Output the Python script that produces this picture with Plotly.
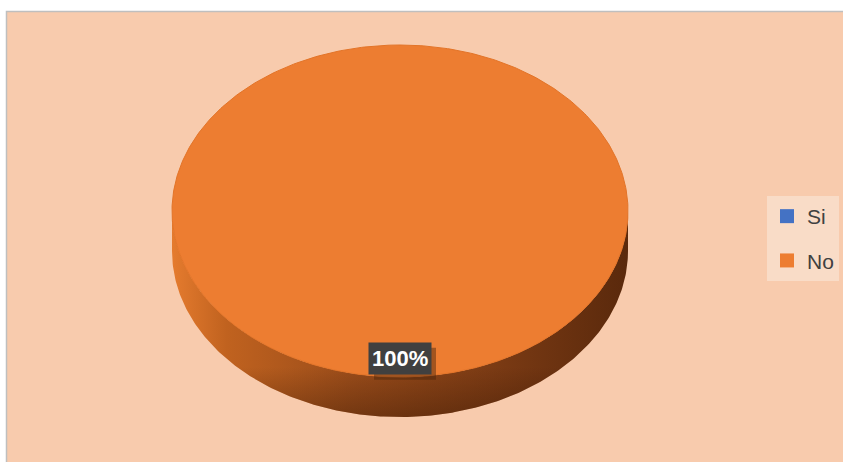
import numpy as np
import plotly.graph_objects as go

# Survey answers
categories = ["Si", "No"]
values = [0, 100]
colors = ["#4472C4", "#ED7D31"]

W, H = 843, 462

# 3-D pie geometry (pixel space)
CX, CY = 400, 211
RX, RY = 228, 166
DEPTH = 40
LABEL_R = 0.89

total = float(sum(values))
fractions = [v / total for v in values]


def ell(a_deg, dy=0.0, r=1.0):
    a = np.radians(a_deg)
    return CX + r * RX * np.sin(a), CY - r * RY * np.cos(a) + dy


fig = go.Figure()

# slice angular spans, clockwise from 12 o'clock
spans = []
start = 0.0
for f in fractions:
    spans.append((start, start + 360.0 * f))
    start += 360.0 * f

# side walls (front half only): lit from the left, shaded toward the bottom
for (a0, a1), col, f in zip(spans, colors, fractions):
    if f <= 0:
        continue
    s0, s1 = max(a0, 90.0), min(a1, 270.0)
    if s1 <= s0:
        continue
    ang = np.linspace(s0, s1, 240)
    tx, ty = ell(ang)
    bx, by = ell(ang[::-1], dy=DEPTH)
    xs = np.concatenate([tx, bx, tx[:1]])
    ys = np.concatenate([ty, by, ty[:1]])
    fig.add_trace(go.Scatter(
        x=xs, y=ys, mode="lines", fill="toself",
        line=dict(width=0, color="rgba(0,0,0,0)"),
        fillgradient=dict(
            type="horizontal", start=CX - RX, stop=CX + RX,
            colorscale=[[0, "#E57B2E"], [0.12, "#C0621F"],
                        [0.4, "#9A4C1A"], [0.7, "#7C3B14"],
                        [1, "#5A290C"]],
        ),
        showlegend=False, hoverinfo="skip",
    ))
    fig.add_trace(go.Scatter(
        x=xs, y=ys, mode="lines", fill="toself",
        line=dict(width=0, color="rgba(0,0,0,0)"),
        fillgradient=dict(
            type="vertical", start=CY + RY - 10, stop=CY + RY + DEPTH,
            colorscale=[[0, "rgba(40,15,0,0)"], [1, "rgba(40,15,0,0.35)"]],
        ),
        showlegend=False, hoverinfo="skip",
    ))

# top faces
for (a0, a1), col, f in zip(spans, colors, fractions):
    if f <= 0:
        continue
    ang = np.linspace(a0, a1, 480)
    ex, ey = ell(ang)
    if f < 1:
        xs = np.concatenate([[CX], ex, [CX]])
        ys = np.concatenate([[CY], ey, [CY]])
    else:
        xs, ys = ex, ey
    fig.add_trace(go.Scatter(
        x=xs, y=ys, mode="lines", fill="toself", fillcolor=col,
        line=dict(width=1, color="#E37428"),
        showlegend=False, hoverinfo="skip",
    ))

# legend entries
for cat, col in zip(categories, colors):
    fig.add_trace(go.Scatter(
        x=[None], y=[None], mode="markers", name=cat, legendgroup=cat,
        marker=dict(symbol="square", size=14, color=col),
    ))

# percentage labels with a drop shadow
for (a0, a1), f in zip(spans, fractions):
    if f <= 0:
        continue
    lx, ly = ell((a0 + a1) / 2.0, r=LABEL_R)
    txt = f"<b>{round(f * 100):.0f}%</b>"
    fig.add_shape(type="rect", xref="x", yref="y",
                  x0=lx - 31 + 5, x1=lx + 31 + 5,
                  y0=ly - 16 + 5, y1=ly + 16 + 5,
                  fillcolor="rgba(70,35,10,0.45)", line=dict(width=0))
    fig.add_annotation(x=lx, y=ly, text=txt, showarrow=False,
                       font=dict(family="Liberation Sans", size=22,
                                 color="white"),
                       bgcolor="#404040", borderpad=3)

# chart area frame
fig.add_shape(type="rect", x0=6.5, y0=11.5, x1=W + 10, y1=H + 10,
              xref="x", yref="y", fillcolor="#F8CBAD",
              line=dict(color="#BFBFBF", width=1.5), layer="below")

fig.update_layout(
    width=W, height=H,
    margin=dict(l=0, r=0, t=0, b=0),
    paper_bgcolor="white", plot_bgcolor="rgba(0,0,0,0)",
    xaxis=dict(range=[0, W], visible=False, fixedrange=True),
    yaxis=dict(range=[H, 0], visible=False, fixedrange=True),
    showlegend=True,
    legend=dict(
        x=767 / W, y=1 - 196 / H, xanchor="left", yanchor="top",
        bgcolor="#F9DCC7", borderwidth=0,
        font=dict(family="Liberation Sans", size=21, color="#404040"),
        tracegroupgap=14, traceorder="grouped",
    ),
)

fig.write_html("out.html")
